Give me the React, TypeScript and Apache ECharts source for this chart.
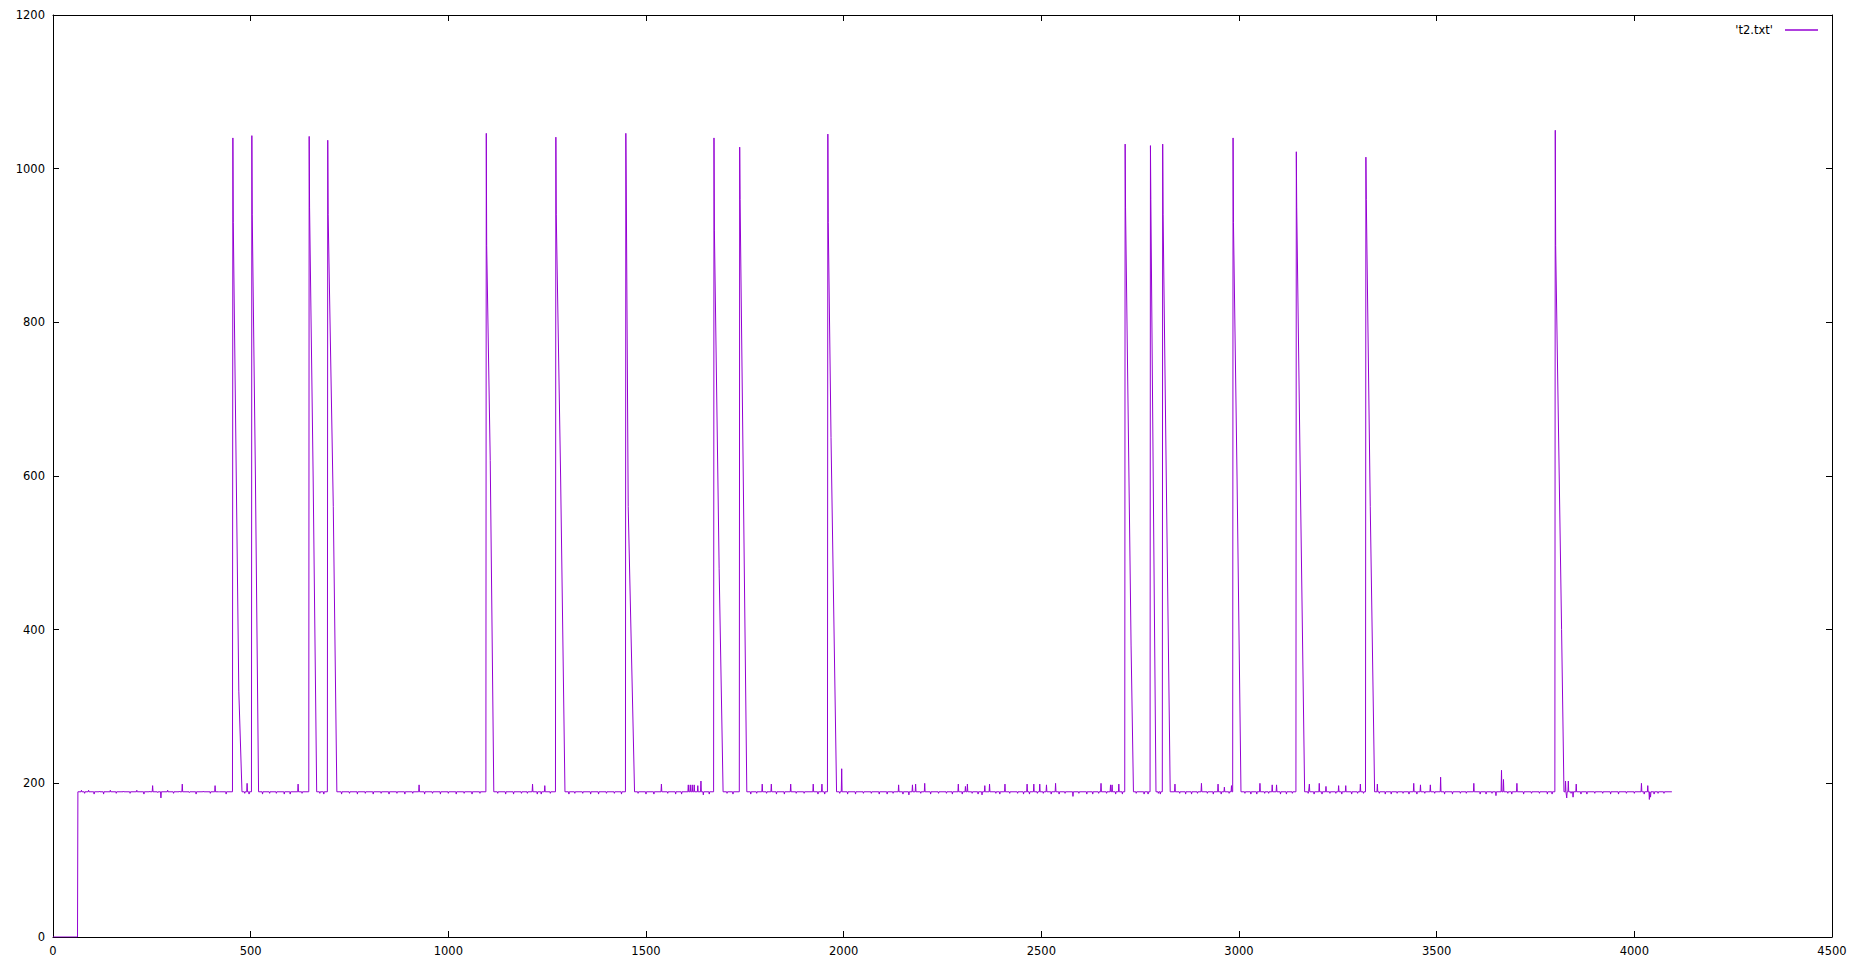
import React, { useEffect, useRef } from "react";
import * as echarts from "echarts";

const SERIES_NAME = "'t2.txt'";
const BASE = 189;

const xTicks = { min: 0, max: 4500, interval: 500 };
const yTicks = { min: 0, max: 1200, interval: 200 };

// leading segment at zero before the signal starts
const startPoints: [number, number][] = [
  [0, 0],
  [62, 0],
  [63, BASE],
];

// large spikes: start x, peak, value just after peak, mid point, end x
const spikeStarts = [455, 503, 648, 695, 1096, 1272, 1449, 1672, 1737, 1960, 2712, 2776, 2807, 2985, 3145, 3321, 3800];
const spikePeaks = [1040, 1043, 1042, 1037, 1046, 1041, 1046, 1040, 1028, 1045, 1032, 1030, 1032, 1040, 1022, 1015, 1050];
const spikeKnees = [930, 940, 950, 940, 900, 940, 980, 920, 960, 930, 950, 960, 940, 930, 950, 960, 900];
const spikeMidX = [470, 512, 658, 709, 1106, 1284, 1455, 1685, 1746, 1968, 2727, 2783, 2816, 2995, 3155, 3332, 3816];
const spikeMidY = [320, 600, 600, 560, 620, 600, 560, 480, 600, 650, 380, 600, 600, 600, 600, 560, 400];
const spikeEnds = [478, 520, 667, 718, 1115, 1295, 1471, 1695, 1755, 1982, 2733, 2790, 2826, 3005, 3166, 3343, 3822];

// small isolated blips on the baseline
const blips: [number, number][] = [
  [252, 197], [273, 181], [327, 199], [410, 197], [491, 200], [620, 199], [926, 198],
  [1213, 199], [1244, 197], [1539, 199], [1607, 198], [1612, 198], [1617, 198], [1622, 198],
  [1631, 197], [1639, 203], [1794, 199], [1817, 199], [1866, 199], [1923, 199], [1945, 199],
  [1995, 219], [2139, 198], [2174, 198], [2182, 199], [2205, 200], [2290, 199], [2308, 196],
  [2313, 199], [2357, 197], [2369, 199], [2408, 199], [2464, 199], [2481, 199], [2496, 199],
  [2513, 198], [2536, 200], [2580, 183], [2651, 200], [2675, 198], [2679, 198], [2696, 199],
  [2838, 199], [2905, 200], [2947, 199], [2963, 195], [2981, 197], [3053, 200], [3084, 198],
  [3095, 198], [3178, 199], [3203, 200], [3220, 196], [3252, 197], [3270, 197], [3307, 199],
  [3350, 199], [3442, 200], [3459, 198], [3484, 198], [3510, 208], [3594, 200], [3664, 217],
  [3669, 205], [3703, 200], [3826, 203], [3829, 181], [3833, 203], [3853, 199], [4018, 200],
  [4034, 197], [4038, 179], [4041, 182],
];

// baseline wobble (small ticks around the baseline)
const jitter: [number, number][] = [
  [72, 191], [80, 187], [90, 191], [104, 186], [118, 190], [128, 186], [145, 191], [160, 187],
  [178, 190], [195, 187], [212, 191], [230, 186], [245, 190], [265, 188], [290, 191], [305, 187],
  [320, 190], [345, 188], [362, 186], [380, 190], [398, 187], [420, 189], [438, 186], [485, 187],
  [496, 186], [530, 186], [548, 187], [565, 187], [585, 186], [600, 186], [630, 187], [675, 187],
  [685, 186], [730, 186], [750, 187], [770, 186], [790, 187], [810, 186], [830, 187], [850, 186],
  [870, 187], [890, 186], [910, 187], [940, 186], [960, 187], [980, 186], [1000, 187], [1020, 186],
  [1040, 187], [1060, 186], [1080, 187], [1125, 187], [1145, 186], [1165, 186], [1185, 187],
  [1200, 187], [1225, 186], [1235, 186], [1258, 187], [1305, 186], [1320, 187], [1340, 187],
  [1360, 186], [1380, 186], [1400, 187], [1420, 187], [1438, 186], [1480, 187], [1500, 186],
  [1520, 186], [1555, 187], [1575, 186], [1590, 186], [1645, 185], [1660, 186], [1705, 187],
  [1720, 186], [1765, 186], [1780, 187], [1805, 187], [1830, 186], [1850, 186], [1880, 187],
  [1900, 187], [1935, 186], [1952, 186], [1990, 187], [2010, 186], [2030, 186], [2050, 187],
  [2070, 187], [2090, 186], [2110, 186], [2125, 187], [2150, 186], [2165, 185], [2195, 187],
  [2220, 186], [2240, 187], [2260, 187], [2275, 186], [2300, 186], [2325, 187], [2340, 186],
  [2350, 185], [2385, 187], [2395, 186], [2420, 187], [2440, 187], [2455, 186], [2470, 186],
  [2490, 187], [2505, 187], [2525, 186], [2545, 186], [2560, 187], [2595, 187], [2615, 186],
  [2630, 186], [2645, 187], [2665, 187], [2688, 186], [2705, 186], [2740, 187], [2760, 186],
  [2770, 186], [2796, 187], [2801, 186], [2850, 187], [2865, 186], [2880, 186], [2895, 187],
  [2920, 187], [2935, 186], [2955, 186], [2975, 187], [3015, 187], [3030, 186], [3045, 186],
  [3065, 187], [3075, 187], [3105, 186], [3120, 186], [3135, 187], [3175, 187], [3190, 186],
  [3210, 186], [3230, 187], [3245, 187], [3260, 186], [3285, 186], [3300, 187], [3315, 187],
  [3355, 187], [3370, 186], [3385, 186], [3400, 187], [3415, 187], [3430, 186], [3450, 186],
  [3470, 187], [3495, 187], [3520, 186], [3540, 186], [3560, 187], [3575, 187], [3610, 186],
  [3625, 186], [3640, 187], [3650, 184], [3680, 187], [3690, 186], [3720, 186], [3740, 187],
  [3760, 187], [3780, 186], [3792, 186], [3840, 187], [3845, 182], [3865, 186], [3880, 186],
  [3900, 187], [3920, 187], [3940, 186], [3960, 186], [3980, 187], [4000, 187], [4025, 186],
  [4050, 186], [4060, 187], [4075, 187],
];

const lastPoint: [number, number] = [4095, BASE];

function buildData(): [number, number][] {
  const pts: [number, number][] = [...startPoints];
  const inSpike = (x: number) =>
    spikeStarts.some((s, i) => x >= s - 2 && x <= spikeEnds[i] + 1);
  spikeStarts.forEach((s, i) => {
    pts.push([s - 1, BASE]);
    pts.push([s, spikePeaks[i]]);
    pts.push([s + 1, spikeKnees[i]]);
    pts.push([spikeMidX[i], spikeMidY[i]]);
    pts.push([spikeEnds[i], BASE]);
  });
  blips.forEach(([x, y]) => {
    pts.push([x - 1, BASE]);
    pts.push([x, y]);
    pts.push([x + 1, BASE]);
  });
  jitter.forEach(([x, y]) => {
    if (!inSpike(x)) {
      pts.push([x - 1, BASE]);
      pts.push([x, y]);
      pts.push([x + 1, BASE]);
    }
  });
  pts.push(lastPoint);
  pts.sort((a, b) => a[0] - b[0]);
  return pts;
}

const FONT = "DejaVu Sans";

export default function App() {
  const ref = useRef<HTMLDivElement>(null);
  useEffect(() => {
    document.body.style.margin = "0";
    if (!ref.current) return;
    const chart = echarts.init(ref.current, null, { renderer: "svg" });
    const axisLine = { show: true, onZero: false, lineStyle: { color: "#000", width: 1 } };
    const tick = { show: true, inside: true, length: 6, lineStyle: { color: "#000", width: 1 } };
    const label = {
      color: "#000",
      fontSize: 11.5,
      fontFamily: FONT,
      margin: 8,
      formatter: (v: number) => String(v),
    };
    chart.setOption({
      animation: false,
      backgroundColor: "#fff",
      grid: { left: 53, right: 21, top: 15, bottom: 27, containLabel: false, show: false },
      legend: {
        show: true,
        right: 30,
        top: 19,
        align: "right",
        icon: "rect",
        itemWidth: 33,
        itemHeight: 1.5,
        textStyle: { color: "#000", fontSize: 11.5, fontFamily: FONT, padding: [0, 7, 0, 0] },
        data: [SERIES_NAME],
      },
      xAxis: [
        {
          type: "value",
          min: xTicks.min,
          max: xTicks.max,
          interval: xTicks.interval,
          position: "bottom",
          axisLine,
          axisTick: tick,
          axisLabel: label,
          splitLine: { show: false },
        },
        {
          type: "value",
          min: xTicks.min,
          max: xTicks.max,
          interval: xTicks.interval,
          position: "top",
          axisLine,
          axisTick: tick,
          axisLabel: { show: false },
          splitLine: { show: false },
        },
      ],
      yAxis: [
        {
          type: "value",
          min: yTicks.min,
          max: yTicks.max,
          interval: yTicks.interval,
          position: "left",
          axisLine,
          axisTick: tick,
          axisLabel: label,
          splitLine: { show: false },
        },
        {
          type: "value",
          min: yTicks.min,
          max: yTicks.max,
          interval: yTicks.interval,
          position: "right",
          axisLine,
          axisTick: tick,
          axisLabel: { show: false },
          splitLine: { show: false },
        },
      ],
      series: [
        {
          name: SERIES_NAME,
          type: "line",
          xAxisIndex: 0,
          yAxisIndex: 0,
          data: buildData(),
          showSymbol: false,
          symbol: "none",
          color: "#9400D3",
          lineStyle: { color: "#9400D3", width: 1 },
        },
      ],
    });
    return () => chart.dispose();
  }, []);
  return <div ref={ref} style={{ width: "100vw", height: "100vh" }} />;
}
